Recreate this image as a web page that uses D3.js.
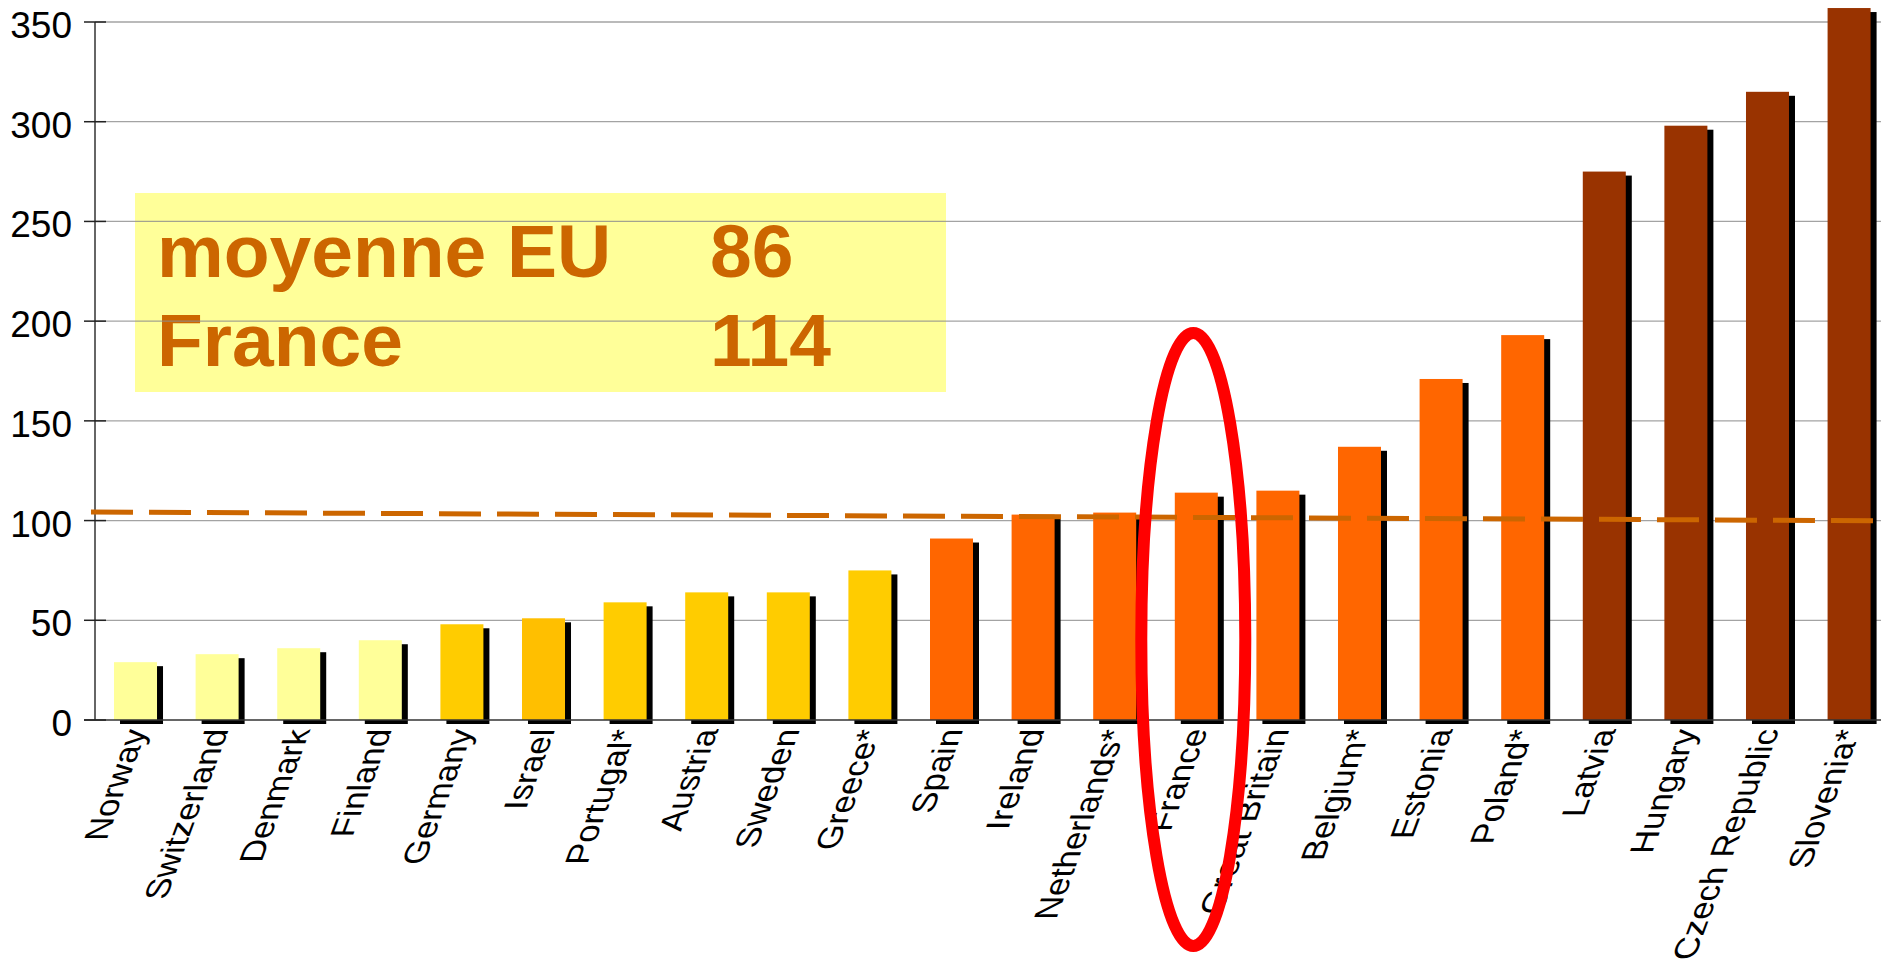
<!DOCTYPE html>
<html>
<head>
<meta charset="utf-8">
<script src="https://cdn.jsdelivr.net/npm/d3@7"></script>
<style>
  body { margin: 0; background: #fff; }
  svg { display: block; font-family: "Liberation Sans", Arial, sans-serif; }
</style>
</head>
<body>
<div id="chart"></div>
<script>
// values
var countries = ["Norway", "Switzerland", "Denmark", "Finland", "Germany", "Israel", "Portugal*",
    "Austria", "Sweden", "Greece*", "Spain", "Ireland", "Netherlands*", "France", "Great Britain",
    "Belgium*", "Estonia", "Poland*", "Latvia", "Hungary", "Czech Republic", "Slovenia*"];
var values = [29, 33, 36, 40, 48, 51, 59, 64, 64, 75, 91, 103, 104, 114, 115, 137, 171, 193, 275, 298, 315, 357];
var barColors = ["#FFFF99", "#FFFF99", "#FFFF99", "#FFFF99", "#FFCC00", "#FFBF00", "#FFCC00",
    "#FFCC00", "#FFCC00", "#FFCC00", "#FF6600", "#FF6600", "#FF6600", "#FF6600", "#FF6600",
    "#FF6600", "#FF6600", "#FF6600", "#993300", "#993300", "#993300", "#993300"];
var yTicks = [0, 50, 100, 150, 200, 250, 300, 350];
var trendValues = [104.3, 99.9];   // dashed line, left end -> right end
var boxLabels = ["moyenne EU", "France"];
var boxValues = [86, 114];
var highlight = "France";

(function() {
    var width = 1881,
        height = 960;

    var svg = d3.select("#chart")
        .append("svg")
        .attr("width", width)
        .attr("height", height);

    var x = d3.scaleBand()
        .domain(countries)
        .range([95, 1889.6])
        .paddingInner(0.473)
        .paddingOuter(0.233);

    var y = d3.scaleLinear()
        .domain([0, 350])
        .range([720, 22]);

    // yellow info box
    var box = svg.append("g");
    box.append("rect")
        .attr("x", 135).attr("y", 193)
        .attr("width", 811).attr("height", 199)
        .attr("fill", "#FFFF99");

    // gridlines
    svg.append("g")
        .selectAll("line")
        .data(yTicks.filter(function(d) { return d > 0; }))
        .enter().append("line")
        .attr("x1", 95).attr("x2", width)
        .attr("y1", function(d) { return y(d); })
        .attr("y2", function(d) { return y(d); })
        .attr("stroke", "#8c8c8c")
        .attr("stroke-opacity", 0.8)
        .attr("stroke-width", 1.3);

    box.selectAll("text.lbl")
        .data(boxLabels)
        .enter().append("text")
        .attr("class", "lbl")
        .attr("x", 157)
        .attr("y", function(d, i) { return 277 + i * 89; })
        .attr("font-size", 75)
        .attr("font-weight", "bold")
        .attr("fill", "#CC6600")
        .text(function(d) { return d; });
    svg.append("g").selectAll("text")
        .data(boxValues)
        .enter().append("text")
        .attr("x", 710)
        .attr("y", function(d, i) { return 277 + i * 89; })
        .attr("font-size", 75)
        .attr("font-weight", "bold")
        .attr("fill", "#CC6600")
        .text(function(d) { return d; });

    // bars with shadow
    var data = countries.map(function(c, i) { return {name: c, value: values[i], color: barColors[i]}; });

    svg.append("g").selectAll("rect")
        .data(data)
        .enter().append("rect")
        .attr("x", function(d) { return x(d.name) + 6; })
        .attr("y", function(d) { return y(d.value) + 4; })
        .attr("width", x.bandwidth())
        .attr("height", function(d) { return y(0) - y(d.value); })
        .attr("fill", "#000");

    svg.append("g").selectAll("rect")
        .data(data)
        .enter().append("rect")
        .attr("x", function(d) { return x(d.name); })
        .attr("y", function(d) { return y(d.value); })
        .attr("width", x.bandwidth())
        .attr("height", function(d) { return y(0) - y(d.value); })
        .attr("fill", function(d) { return d.color; });

    // axes
    svg.append("line")
        .attr("x1", 84).attr("x2", width)
        .attr("y1", y(0)).attr("y2", y(0))
        .attr("stroke", "#333").attr("stroke-width", 1.5);
    svg.append("line")
        .attr("x1", 95).attr("x2", 95)
        .attr("y1", y(350)).attr("y2", y(0))
        .attr("stroke", "#333").attr("stroke-width", 1.5);

    var yt = svg.append("g").selectAll("g")
        .data(yTicks)
        .enter().append("g");
    yt.append("line")
        .attr("x1", 84).attr("x2", 106)
        .attr("y1", function(d) { return y(d); })
        .attr("y2", function(d) { return y(d); })
        .attr("stroke", "#222").attr("stroke-width", 1.5);
    yt.append("text")
        .attr("x", 72)
        .attr("y", function(d) { return y(d) + 16; })
        .attr("text-anchor", "end")
        .attr("font-size", 37)
        .attr("fill", "#000")
        .text(function(d) { return d; });

    // slanted category labels (rotated and sheared like the original)
    svg.append("g").selectAll("text")
        .data(countries)
        .enter().append("text")
        .attr("transform", function(d) {
            var cx = x(d) + x.bandwidth() / 2 + 12;
            return "matrix(0.37,-1,1,0," + cx + ",729)";
        })
        .attr("text-anchor", "end")
        .attr("font-size", 33)
        .attr("fill", "#000")
        .text(function(d) { return d; });

    // dashed average line
    svg.append("line")
        .attr("x1", 91).attr("x2", width)
        .attr("y1", y(trendValues[0]))
        .attr("y2", y(trendValues[0] + (trendValues[1] - trendValues[0]) * (width - 91) / (1889.6 - 95)))
        .attr("stroke", "#CC6600")
        .attr("stroke-width", 5)
        .attr("stroke-dasharray", "42,16");

    // red ellipse around France
    svg.append("ellipse")
        .attr("cx", x(highlight) + x.bandwidth() / 2 - 3)
        .attr("cy", 639.5)
        .attr("rx", 52)
        .attr("ry", 306.5)
        .attr("fill", "none")
        .attr("stroke", "#FF0000")
        .attr("stroke-width", 12);
})();
</script>
</body>
</html>
